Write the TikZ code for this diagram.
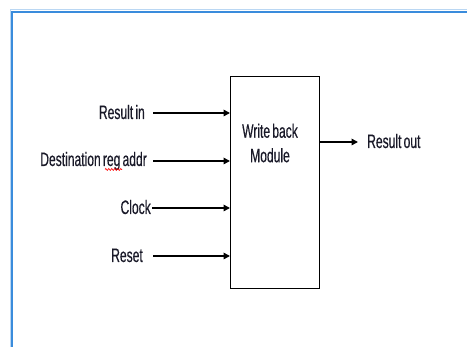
\documentclass[tikz,border=0pt]{standalone}
\usepackage{fontspec}
\setmainfont{Liberation Sans}[FakeStretch=0.62,WordSpace=0.65,FakeBold=0.4]
\usetikzlibrary{arrows.meta,decorations.pathmorphing}
\definecolor{frameblue}{RGB}{58,140,220}
\definecolor{txt}{RGB}{25,25,40}
\begin{document}
\begin{tikzpicture}[x=1pt,y=-1pt,
  lbl/.style={inner sep=0pt, text=txt, font=\fontsize{19.5}{24.5}\selectfont},
  sig/.style={line width=1.6pt, -{Triangle[length=6.5pt,width=6.5pt]}},
  module/.style={draw, line width=1.4pt, minimum width=89pt, minimum height=212pt, inner sep=0pt, anchor=north west}]
\useasboundingbox (0,0) rectangle (467,347);
% frame
\draw[frameblue!35, line width=1pt] (10,360) -- (10,9.5) -- (480,9.5);
\draw[frameblue, line width=2pt] (12,360) -- (12,12) -- (480,12);
% module
\node[module] (box) at (230,76) {};
\node[lbl, align=center] (boxtxt) at (270,143) {Write back\\Module};
% inputs
\node[lbl, anchor=base east] (lin) at (145,119) {Result in};
\node[lbl, anchor=base east] (ldst) at (147,166) {Destination reg addr};
\node[lbl, anchor=base east] (lclk) at (151,214) {Clock};
\node[lbl, anchor=base east] (lrst) at (143,262) {Reset};
\coordinate (sin) at (153,113);
\coordinate (sdst) at (153,161);
\coordinate (sclk) at (152,208);
\coordinate (srst) at (153,256);
\draw[sig] (sin) -- (box.west |- sin);
\draw[sig] (sdst) -- (box.west |- sdst);
\draw[sig] (sclk) -- (box.west |- sclk);
\draw[sig] (srst) -- (box.west |- srst);
% output
\node[lbl, anchor=base west] (lout) at (367,148) {Result out};
\coordinate (eout) at (358,142);
\draw[sig] (box.east |- eout) -- (eout);
% spell-check squiggle
\draw[red, line width=0.6pt, decorate, decoration={zigzag, amplitude=1pt, segment length=3pt}] (105,169.5) -- (122,169.5);
\end{tikzpicture}
\end{document}
